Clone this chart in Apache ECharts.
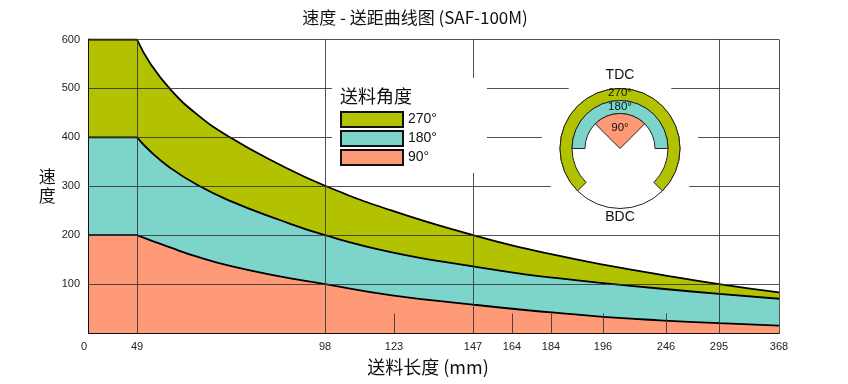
<!DOCTYPE html>
<html>
<head>
<meta charset="utf-8">
<style>
  html, body { margin: 0; padding: 0; background: #fff; }
  #chart { width: 848px; height: 384px; }
</style>
<script src="https://cdn.jsdelivr.net/npm/echarts@6/dist/echarts.min.js"></script>
</head>
<body>
<div id="chart"></div>
<script>
// the printed feed axis is not linear, so each tick has a slot along the drawn axis
const feedTicks = [0, 49, 98, 123, 147, 164, 184, 196, 246, 295, 368]
const feedSlots = [0, 48, 236, 305, 384, 423, 462, 514, 577, 630, 690]
const fullLineTicks = [49, 98, 147, 295, 368]
const shortLineTicks = [123, 164, 184, 196, 246]
const speedTicks = [100, 200, 300, 400, 500, 600]

const curveSlots = [0, 48, 61, 81, 108, 141, 188, 236, 303, 384, 436, 486, 514, 570, 630, 690]
const speed270 = [600, 600, 552, 499, 447, 400, 347, 301, 250, 200, 173, 151, 140, 120, 100, 83]
const speed180 = [400, 400, 372, 338, 303, 270, 233, 200, 165, 136, 120, 108, 102, 91, 80, 70]
const speed90 = [200, 200, 190, 175, 156, 137, 117, 100, 77, 58, 47, 38, 33, 26, 20, 15]

const names = ['270°', '180°', '90°']
const colors = ['#b2c200', '#7dd4cb', '#ff9a78']

const FONT = '"Liberation Sans", "Noto Sans CJK SC", sans-serif'
const CJK = '"Noto Sans CJK SC", "Liberation Sans", sans-serif'

const slotOf = tick => feedSlots[feedTicks.indexOf(tick)]
const toPoints = values => values.map((v, i) => [curveSlots[i], v])

// flat run and falling run are separate so the corner at 49 stays sharp
function curve(name, values, color, z) {
  const points = toPoints(values)
  const base = {
    name,
    type: 'line',
    z,
    showSymbol: false,
    itemStyle: { color },
    lineStyle: { color: '#000', width: 1.8 },
    areaStyle: { color, opacity: 1 }
  }
  return [
    { ...base, data: points.slice(0, 2) },
    { ...base, data: points.slice(1), smooth: 0.5 }
  ]
}

const lineData = [
  ...speedTicks.map(v => [{ coord: [0, v] }, { coord: [690, v] }]),
  ...fullLineTicks.map(t => [{ coord: [slotOf(t), 0] }, { coord: [slotOf(t), 600] }]),
  ...shortLineTicks.map(t => [{ coord: [slotOf(t), 0] }, { coord: [slotOf(t), 40] }])
]

const deg = Math.PI / 180
const dial = { cx: 620, cy: 148.5 }

function ring(r0, r, from, to, fill) {
  return {
    type: 'sector',
    z: 96,
    silent: true,
    shape: { cx: dial.cx, cy: dial.cy, r0, r, startAngle: from * deg, endAngle: to * deg },
    style: { fill, stroke: '#222', lineWidth: 1 }
  }
}

function label(text, x, y, size, font, align) {
  return {
    type: 'text',
    z: 97,
    silent: true,
    x,
    y,
    style: { text, fill: '#111', font: `${size}px ${font}`, align: align || 'center', verticalAlign: 'middle' }
  }
}

const chart = echarts.init(document.getElementById('chart'), null, { renderer: 'canvas' })

chart.setOption({
  animation: false,
  title: {
    text: '速度 - 送距曲线图 (SAF-100M)',
    left: 410,
    top: 4,
    textAlign: 'center',
    textStyle: { fontFamily: CJK, fontSize: 17, fontWeight: 'normal', color: '#111' }
  },
  grid: { left: 89, top: 39.5, width: 690, height: 293.5 },
  legend: {
    left: 340,
    top: 111,
    padding: 0,
    orient: 'vertical',
    z: 100,
    itemWidth: 62,
    itemHeight: 15,
    itemGap: 2,
    selectedMode: false,
    textStyle: { fontFamily: FONT, fontSize: 14, color: '#111', lineHeight: 15 },
    data: names.map((name, i) => ({
      name,
      icon: 'rect',
      itemStyle: { color: colors[i], borderColor: '#111', borderWidth: 2 }
    }))
  },
  xAxis: {
    type: 'value',
    min: 0,
    max: 690,
    name: '送料长度 (mm)',
    nameLocation: 'middle',
    nameGap: 25,
    nameTextStyle: { fontFamily: CJK, fontSize: 18, color: '#111', padding: [0, 12, 0, 0] },
    axisLine: { show: true, onZero: false, lineStyle: { color: '#111', width: 2 } },
    axisTick: { show: false },
    splitLine: { show: false },
    axisLabel: {
      customValues: feedSlots,
      margin: 8,
      color: '#222',
      fontFamily: FONT,
      fontSize: 11,
      formatter: v => {
        const tick = feedTicks[feedSlots.indexOf(v)]
        return tick === 0 ? '{zero|0}' : String(tick)
      },
      rich: { zero: { padding: [0, 10, 0, 0], fontFamily: FONT, fontSize: 11, color: '#222' } }
    }
  },
  yAxis: {
    type: 'value',
    min: 0,
    max: 600,
    interval: 100,
    name: '速\n度',
    nameLocation: 'middle',
    nameRotate: 0,
    nameGap: 33,
    nameTextStyle: { fontFamily: CJK, fontSize: 17, color: '#111', lineHeight: 19 },
    axisLine: { show: true, lineStyle: { color: '#111', width: 2 } },
    axisTick: { show: false },
    splitLine: { show: false },
    axisLabel: {
      margin: 9,
      color: '#222',
      fontFamily: FONT,
      fontSize: 11,
      formatter: v => (v === 0 ? '' : String(v))
    }
  },
  series: [
    ...curve(names[0], speed270, colors[0], 2),
    ...curve(names[1], speed180, colors[1], 3),
    ...curve(names[2], speed90, colors[2], 4),
    {
      type: 'line',
      z: 10,
      data: [],
      markLine: {
        silent: true,
        animation: false,
        symbol: 'none',
        label: { show: false },
        lineStyle: { color: '#333', width: 1, type: 'solid', opacity: 0.85 },
        data: lineData
      }
    }
  ],
  graphic: [
    { type: 'rect', z: 95, silent: true, shape: { x: 332, y: 78, width: 155, height: 95 }, style: { fill: '#fff' } },
    { type: 'circle', z: 95, silent: true, shape: { cx: dial.cx, cy: dial.cy, r: 79 }, style: { fill: '#fff' } },
    { type: 'circle', z: 96, silent: true, shape: { cx: dial.cx, cy: dial.cy, r: 60 }, style: { fill: '#fff', stroke: '#222', lineWidth: 1 } },
    ring(48, 60, 135, 405, colors[0]),
    ring(35, 48, 180, 360, colors[1]),
    ring(0, 35, 225, 315, colors[2]),
    label('送料角度', 340, 96, 18, CJK, 'left'),
    label('TDC', dial.cx, 75, 14, FONT),
    label('BDC', dial.cx, 217, 14, FONT),
    label('270°', dial.cx, 93, 11.5, FONT),
    label('180°', dial.cx, 107, 11.5, FONT),
    label('90°', dial.cx, 128, 11.5, FONT)
  ]
})
</script>
</body>
</html>
